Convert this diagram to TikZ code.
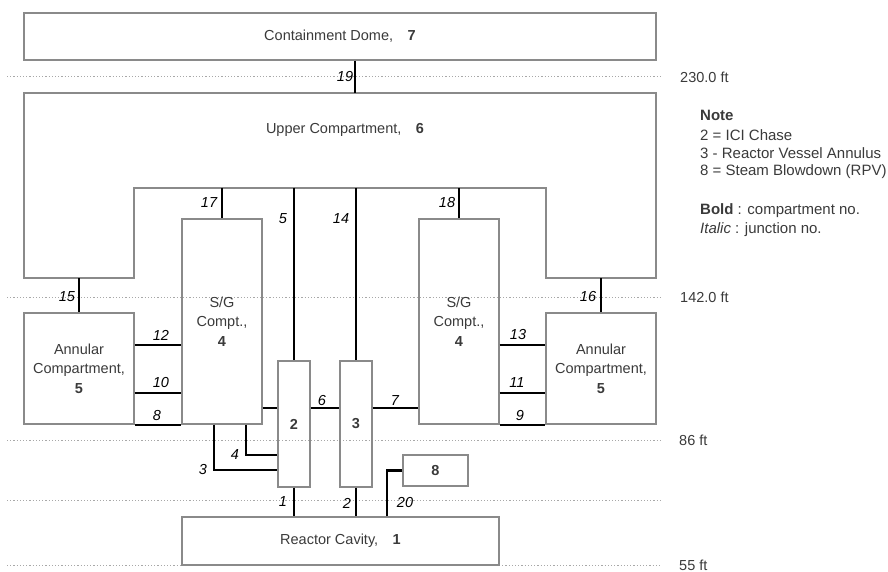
\documentclass[tikz,border=0pt]{standalone}
\usepackage{fontspec}
\setmainfont{Liberation Sans}
\definecolor{boxgray}{HTML}{8A8A8A}
\definecolor{dotgray}{HTML}{A8A8A8}
\definecolor{txt}{HTML}{3A3A3A}
\begin{document}
\begin{tikzpicture}[x=1pt,y=-1pt,
  every node/.style={font=\fontsize{14.5}{19.5}\selectfont, text=txt, inner sep=0pt},
  comp/.style={draw=boxgray, line width=1.4pt, align=center},
  junc/.style={draw=black, line width=2.3pt},
  jl/.style={font=\fontsize{14.5}{19}\selectfont\itshape, text=black},
  level/.style={draw=dotgray, line width=1pt, dash pattern=on 1.2pt off 2pt},
  lvl/.style={anchor=west},
  note/.style={anchor=west, font=\fontsize{15}{19}\selectfont},
]
\useasboundingbox (0,0) rectangle (888,572);

% elevation lines
\draw[level] (7,77) -- (660,77);
\draw[level] (7,297) -- (660,297);
\draw[level] (7,440) -- (660,440);
\draw[level] (7,500) -- (660,500);
\draw[level] (7,565) -- (182,565);
\draw[level] (499,565) -- (660,565);
\node[lvl] (l230) at (680,77) {230.0 ft};
\node[lvl] (l142) at (680,297) {142.0 ft};
\node[lvl] (l86) at (679,440) {86 ft};
\node[lvl] (l55) at (679,565) {55 ft};

% compartments
\node[comp, minimum width=632pt, minimum height=47pt] (dome) at (340,36.5) {Containment Dome,\quad\textbf{7}};
\draw[boxgray, line width=1.4pt] (24,93) -- (656,93) -- (656,278) -- (546,278) -- (546,188)
  -- (134,188) -- (134,278) -- (24,278) -- cycle;
\node (uclab) at (345,130) {Upper Compartment,\quad\textbf{6}};
\coordinate (ucTop) at (355,93);
\coordinate (ucIn) at (340,188);
\coordinate (ucB) at (340,278);

\node[comp, minimum width=80pt, minimum height=205pt] (sgL) at (222,321.5) {S/G\\Compt.,\\\textbf{4}};
\node[comp, minimum width=80pt, minimum height=205pt] (sgR) at (459,321.5) {S/G\\Compt.,\\\textbf{4}};
\node[comp, minimum width=110pt, minimum height=111pt] (anL) at (79,368.5) {Annular\\Compartment,\\\textbf{5}};
\node[comp, minimum width=110pt, minimum height=111pt] (anR) at (601,368.5) {Annular\\Compartment,\\\textbf{5}};
\node[comp, minimum width=32pt, minimum height=126pt] (b2) at (294,424) {\textbf{2}};
\node[comp, minimum width=32pt, minimum height=126pt] (b3) at (356,424) {\textbf{3}};
\node[comp, minimum width=65pt, minimum height=31pt] (b8) at (435.5,470.5) {\textbf{8}};
\node[comp, minimum width=317pt, minimum height=48pt] (cav) at (340.5,541) {Reactor Cavity,\quad\textbf{1}};

% junctions
\coordinate (y12) at (0,345);
\coordinate (y10) at (0,393);
\coordinate (y6) at (0,408);
\coordinate (j4) at (246,455);
\coordinate (j3) at (214,470);
\coordinate (j20) at (387,470);

\draw[junc] (dome.south -| ucTop) -- (ucTop);
\draw[junc] (sgL.north |- ucIn) -- (sgL.north);
\draw[junc] (sgR.north |- ucIn) -- (sgR.north);
\draw[junc] (b2.north |- ucIn) -- (b2.north);
\draw[junc] (b3.north |- ucIn) -- (b3.north);
\draw[junc] (anL.north |- ucB) -- (anL.north);
\draw[junc] (anR.north |- ucB) -- (anR.north);
\draw[junc] (anL.east |- y12) -- (sgL.west |- y12);
\draw[junc] (anL.east |- y10) -- (sgL.west |- y10);
\draw[junc] (anL.south east) -- (sgL.south west);
\draw[junc] (sgR.east |- y12) -- (anR.west |- y12);
\draw[junc] (sgR.east |- y10) -- (anR.west |- y10);
\draw[junc] (sgR.south east) -- (anR.south west);
\draw[junc] (sgL.east |- y6) -- (b2.west |- y6);
\draw[junc] (b2.east |- y6) -- (b3.west |- y6);
\draw[junc] (b3.east |- y6) -- (sgR.west |- y6);
\draw[junc] (sgL.south -| j4) -- (j4) -- (j4 -| b2.west);
\draw[junc] (sgL.south -| j3) -- (j3) -- (j3 -| b2.west);
\draw[junc] (b2.south) -- (b2.south |- cav.north);
\draw[junc] (b3.south) -- (b3.south |- cav.north);
\draw[junc] (cav.north -| j20) -- (j20 |- b8.west) -- (b8.west);

% junction labels
\node[jl] (n19) at (345,77) {19};
\node[jl] (n17) at (209,203) {17};
\node[jl] (n5) at (283,219) {5};
\node[jl] (n14) at (341,219) {14};
\node[jl] (n18) at (447,203) {18};
\node[jl] (n15) at (67,297) {15};
\node[jl] (n16) at (588,297) {16};
\node[jl] (n12) at (161,335) {12};
\node[jl] (n10) at (161,383) {10};
\node[jl] (n8) at (157,416) {8};
\node[jl] (n13) at (518,335) {13};
\node[jl] (n11) at (517,383) {11};
\node[jl] (n9) at (520,416) {9};
\node[jl] (n6) at (322,401) {6};
\node[jl] (n7) at (395,401) {7};
\node[jl] (n4) at (235,455) {4};
\node[jl] (n3) at (203,470) {3};
\node[jl] (n1) at (283,502) {1};
\node[jl] (n2) at (347,503) {2};
\node[jl] (n20) at (405,503) {20};

% note
\node[note] (t0) at (700,115) {\textbf{Note}};
\node[note] (t1) at (700,135) {2 = ICI Chase};
\node[note] (t2) at (700,153) {3 - Reactor Vessel Annulus};
\node[note] (t3) at (700,172) {8 = Steam Blowdown (RPV)};
\node[note] (t4) at (700,211) {\textbf{Bold} : compartment no.};
\node[note] (t5) at (700,230) {\textit{Italic} : junction no.};
\end{tikzpicture}
\end{document}
